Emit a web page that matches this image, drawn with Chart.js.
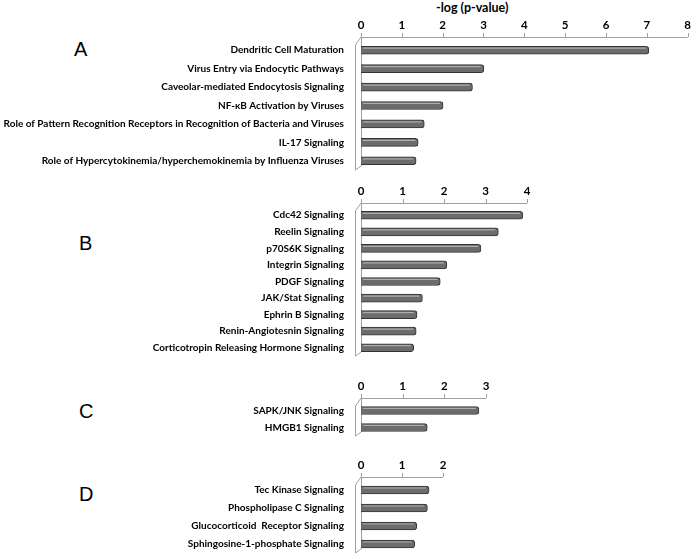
<!DOCTYPE html>
<html>
<head>
<meta charset="utf-8">
<script src="https://cdn.jsdelivr.net/npm/chart.js@4.4.1/dist/chart.umd.min.js"></script>
<style>
  body { margin: 0; background: #fff; width: 700px; height: 559px; position: relative; overflow: hidden; }
  canvas { position: absolute; left: 0; }
  .letter { position: absolute; font-family: "Liberation Sans", Arial, sans-serif; font-size: 20px; color: #000; }
  .title { position: absolute; font-family: Lato, "Open Sans", sans-serif; font-weight: bold; font-size: 12.5px; }
</style>
</head>
<body>
<div class="title" style="left:436px; top:0px;">-log (p-value)</div>
<div class="letter" style="left:74px; top:38px;">A</div>
<div class="letter" style="left:79px; top:232px;">B</div>
<div class="letter" style="left:79px; top:400px;">C</div>
<div class="letter" style="left:79px; top:483px;">D</div>
<canvas id="chartA" width="700" height="176" style="top:0px"></canvas>
<canvas id="chartB" width="700" height="184" style="top:178px"></canvas>
<canvas id="chartC" width="700" height="72" style="top:370px"></canvas>
<canvas id="chartD" width="700" height="109" style="top:450px"></canvas>
<script>
// Données
const labelsA = ['Dendritic Cell Maturation', 'Virus Entry via Endocytic Pathways', 'Caveolar-mediated Endocytosis Signaling',
  'NF-κB Activation by Viruses', 'Role of Pattern Recognition Receptors in Recognition of Bacteria and Viruses',
  'IL-17 Signaling', 'Role of Hypercytokinemia/hyperchemokinemia by Influenza Viruses'];
const valuesA = [7.05, 3.01, 2.73, 2.01, 1.55, 1.40, 1.35];

const labelsB = ['Cdc42 Signaling', 'Reelin Signaling', 'p70S6K Signaling', 'Integrin Signaling', 'PDGF Signaling',
  'JAK/Stat Signaling', 'Ephrin B Signaling', 'Renin-Angiotesnin Signaling', 'Corticotropin Releasing Hormone Signaling'];
const valuesB = [3.90, 3.31, 2.89, 2.07, 1.91, 1.48, 1.35, 1.33, 1.27];

const labelsC = ['SAPK/JNK Signaling', 'HMGB1 Signaling'];
const valuesC = [2.83, 1.59];

const labelsD = ['Tec Kinase Signaling', 'Phospholipase C Signaling', 'Glucocorticoid  Receptor Signaling', 'Sphingosine-1-phosphate Signaling'];
const valuesD = [1.66, 1.62, 1.36, 1.31];

const FONT = 'Lato, "Open Sans", sans-serif';

// Cadre pseudo-3D (mur de gauche + axe du haut)
const frame3d = {
  id: 'frame3d',
  beforeDatasetsDraw(chart) {
    const ctx = chart.ctx, a = chart.chartArea, xs = chart.scales.x;
    const d = 6, yTop = a.top - 4;
    ctx.save();
    ctx.strokeStyle = '#a0a0a0';
    ctx.lineWidth = 1;
    ctx.beginPath();
    ctx.moveTo(a.left, yTop + 0.5); ctx.lineTo(a.right, yTop + 0.5);
    xs.ticks.forEach(t => {
      const x = Math.round(xs.getPixelForValue(t.value)) + 0.5;
      ctx.moveTo(x, yTop); ctx.lineTo(x, yTop - 4);
    });
    ctx.moveTo(a.left + 0.5, yTop); ctx.lineTo(a.left + 0.5, a.bottom - 4);
    ctx.moveTo(a.left, yTop); ctx.lineTo(a.left - d + 0.5, yTop + 8);
    ctx.lineTo(a.left - d + 0.5, a.bottom); ctx.lineTo(a.left, a.bottom - 4);
    ctx.stroke();
    ctx.restore();
  },
  afterDatasetsDraw(chart) {
    // reflet clair sur le haut des barres
    const ctx = chart.ctx;
    ctx.save();
    ctx.strokeStyle = 'rgba(185,185,185,0.85)';
    ctx.lineWidth = 1.2;
    chart.getDatasetMeta(0).data.forEach(bar => {
      const y = bar.y - bar.height / 4;
      ctx.beginPath();
      ctx.moveTo(bar.base + 2, y); ctx.lineTo(bar.x - 3, y);
      ctx.stroke();
    });
    ctx.restore();
  }
};

function makeChart(id, labels, values, maxX, axisHeight, padRight, padBottom) {
  const ctx = document.getElementById(id).getContext('2d');
  return new Chart(ctx, {
    type: 'bar',
    data: {
      labels: labels,
      datasets: [{
        data: values,
        backgroundColor: '#6c6c6c',
        borderColor: '#333333',
        borderWidth: 1,
        borderSkipped: 'start',
        borderRadius: 3,
        barThickness: 8
      }]
    },
    options: {
      indexAxis: 'y',
      responsive: false,
      animation: false,
      devicePixelRatio: 1,
      layout: { padding: { left: 0, right: padRight, top: 0, bottom: padBottom } },
      plugins: { legend: { display: false }, tooltip: { enabled: false } },
      scales: {
        x: {
          position: 'top',
          min: 0,
          max: maxX,
          ticks: { stepSize: 1, padding: 9, color: '#000', font: { family: FONT, weight: 'bold', size: 11.5 } },
          grid: { display: false, drawTicks: false },
          border: { display: false },
          afterFit(scale) { scale.height = axisHeight; }
        },
        y: {
          // l'écart label/mur passe par tickLength (padding ajouterait de la marge en bas)
          ticks: { autoSkip: false, padding: 0, color: '#000', font: { family: FONT, weight: 'bold', size: 10 } },
          grid: { display: true, drawOnChartArea: false, drawTicks: true, tickLength: 17, tickColor: 'rgba(0,0,0,0)' },
          border: { display: false },
          afterFit(scale) { scale.width = 361; }
        }
      }
    },
    plugins: [frame3d]
  });
}

makeChart('chartA', labelsA, valuesA, 8, 41, 5, 3);
makeChart('chartB', labelsB, valuesB, 4, 29, 173, 1);
makeChart('chartC', labelsC, valuesC, 3, 32, 214, 2);
makeChart('chartD', labelsD, valuesD, 2, 31, 257, 4);
</script>
</body>
</html>
